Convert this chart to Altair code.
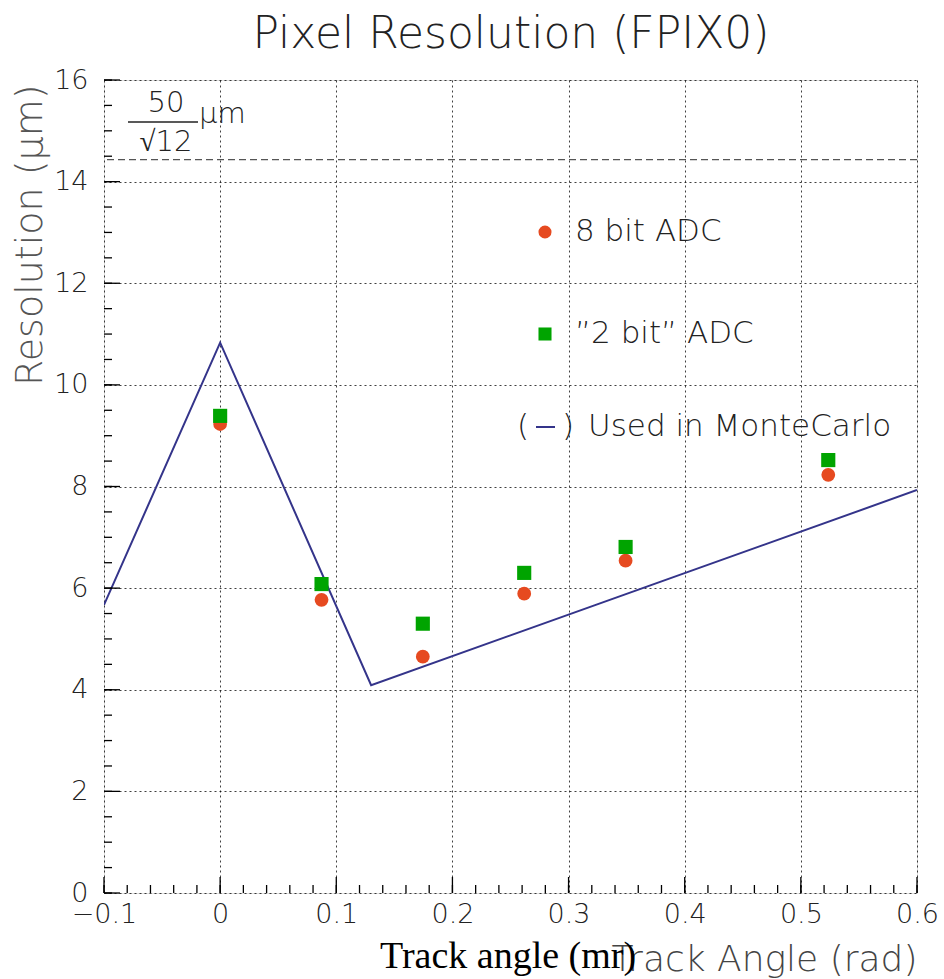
import altair as alt
import pandas as pd

# ---- data ----
angles = [0.0, 0.0873, 0.1745, 0.2618, 0.3491, 0.5236]
res_8bit = [9.23, 5.77, 4.65, 5.89, 6.54, 8.23]
res_2bit = [9.39, 6.08, 5.30, 6.30, 6.81, 8.52]
mc_x = [-0.1, 0.0, 0.13, 0.6]
mc_y = [5.67, 10.83, 4.09, 7.93]
binary_res = 50 / 12 ** 0.5

x_major = [-0.1, 0.0, 0.1, 0.2, 0.3, 0.4, 0.5, 0.6]
x_minor = [round(-0.1 + 0.02 * i, 3) for i in range(36)]
y_major = [0, 2, 4, 6, 8, 10, 12, 14, 16]
y_minor = [0.5 * i for i in range(33)]

FONT = "DejaVu Sans"
W = 200
XS = alt.Scale(domain=[-0.1, 0.6], nice=False, zero=False)
YS = alt.Scale(domain=[0, 16], nice=False, zero=False)

pts8 = pd.DataFrame({"x": angles, "y": res_8bit})
pts2 = pd.DataFrame({"x": angles, "y": res_2bit})
mc = pd.DataFrame({"x": mc_x, "y": mc_y})

# px per data unit (plot 813x813)
px_x = 813 / 0.7
px_y = 813 / 16

xt = pd.DataFrame({"x": x_minor + x_major,
                   "len": [8] * len(x_minor) + [16] * len(x_major)})
xt["y"] = 0.0
xt["y2"] = xt["len"] / px_y
yt = pd.DataFrame({"y": y_minor + y_major,
                   "len": [8] * len(y_minor) + [16] * len(y_major)})
yt["x"] = -0.1
yt["x2"] = -0.1 + yt["len"] / px_x

GRID = dict(grid=True, gridDash=[2, 3], gridColor="black", gridOpacity=0.75, gridWidth=1)

base = alt.Chart(mc).mark_line(color="#34348a", strokeWidth=2, clip=True).encode(
    x=alt.X("x:Q", scale=XS, axis=alt.Axis(
        values=x_major, ticks=False, domain=False, format="~g",
        labelFontSize=27, labelFont=FONT, labelFontWeight=W, labelColor="#222",
        labelPadding=8, labelFlush=False,
        title="Track Angle (rad)", titleFont=FONT, titleFontWeight=W,
        titleFontSize=36, titleColor="#444", titleAnchor="end",
        titleX=813, titleY=77, titleAlign="right", titleBaseline="alphabetic",
        **GRID)),
    y=alt.Y("y:Q", scale=YS, axis=alt.Axis(
        values=y_major, ticks=False, domain=False,
        labelFontSize=27, labelFont=FONT, labelFontWeight=W, labelColor="#222",
        labelPadding=16, labelFlush=False,
        title="Resolution (μm)", titleFont=FONT, titleFontWeight=W,
        titleFontSize=38, titleColor="#555", titleAnchor="end",
        titleX=-74, titleY=4, titleAlign="right", titleBaseline="middle",
        **GRID)),
)

hline = alt.Chart(pd.DataFrame({"y": [binary_res]})).mark_rule(
    color="#555", strokeDash=[7, 4], strokeWidth=1.2).encode(y=alt.Y("y:Q", scale=YS))

circ = alt.Chart(pts8).mark_point(shape="circle", filled=True, size=190,
                                  color="#e64a20", opacity=1).encode(
    x=alt.X("x:Q", scale=XS), y=alt.Y("y:Q", scale=YS))
sq = alt.Chart(pts2).mark_point(shape="square", filled=True, size=200,
                                color="#00a400", opacity=1).encode(
    x=alt.X("x:Q", scale=XS), y=alt.Y("y:Q", scale=YS))

xticks = alt.Chart(xt).mark_rule(color="black", strokeWidth=1.3).encode(
    x=alt.X("x:Q", scale=XS), y=alt.Y("y:Q", scale=YS), y2="y2:Q")
yticks = alt.Chart(yt).mark_rule(color="black", strokeWidth=1.3).encode(
    y=alt.Y("y:Q", scale=YS), x=alt.X("x:Q", scale=XS), x2="x2:Q")

# legend (in-plot)
leg_c = alt.Chart(pts8.head(1)).mark_point(shape="circle", filled=True, size=170,
                                          color="#e64a20", opacity=1).encode(
    x=alt.value(441), y=alt.value(152))
leg_s = alt.Chart(pts2.head(1)).mark_point(shape="square", filled=True, size=170,
                                          color="#00a400", opacity=1).encode(
    x=alt.value(441), y=alt.value(254))
leg_l = alt.Chart(mc.head(1)).mark_rule(color="#34348a", strokeWidth=2).encode(
    x=alt.value(432), x2=alt.value(451), y=alt.value(347))


def txt(s, x, y, size=31, color="#222", font=FONT, weight=W, align="left", baseline="middle"):
    return alt.Chart(pd.DataFrame({"t": [s]})).mark_text(
        align=align, baseline=baseline, fontSize=size, font=font,
        fontWeight=weight, color=color).encode(
        x=alt.value(x), y=alt.value(y), text="t:N")


labels = [
    txt("8 bit ADC", 471, 152),
    txt("\u201d2 bit\u201d ADC", 471, 254),
    txt("(", 413, 347),
    txt(")", 458, 347),
    txt("Used in MonteCarlo", 484, 347),
    # 50/sqrt(12) um
    txt("50", 62, 23, size=29, align="center"),
    txt("\u221a12", 62, 62, size=29, align="center"),
    txt("μm", 95, 34, size=29),
    # title
    txt("Pixel Resolution (FPIX0)", 407, -45, size=44, align="center"),
    # overlapping serif label
    txt("Track angle (mr)", 276, 888, size=38, color="black",
        font="Liberation Serif", weight="normal", baseline="alphabetic"),
]
frac = alt.Chart(mc.head(1)).mark_rule(color="#222", strokeWidth=1.3).encode(
    x=alt.value(24), x2=alt.value(94), y=alt.value(42))

chart = alt.layer(
    base, hline, circ, sq, xticks, yticks, leg_c, leg_s, leg_l, frac, *labels
).properties(
    width=813, height=813,
    autosize=alt.AutoSizeParams(type="none"),
    padding={"left": 104, "top": 80, "right": 27, "bottom": 86},
).configure_view(
    stroke="black", strokeWidth=1.5
).configure(background="white")

chart.save("out.html", embed_options={"renderer": "svg", "actions": False})
